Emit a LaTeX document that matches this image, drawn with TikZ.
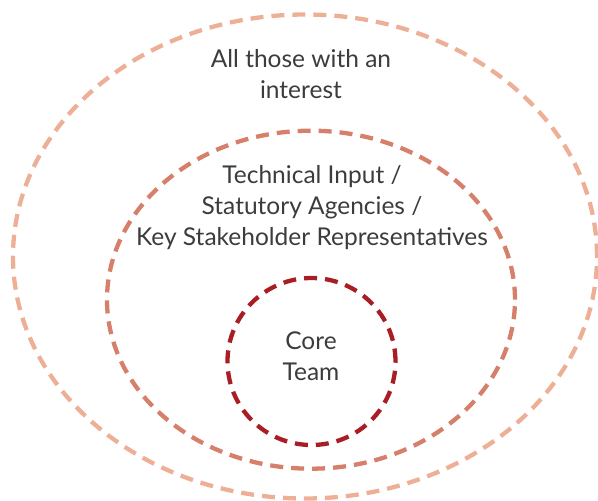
\documentclass[tikz,border=0pt]{standalone}
\usepackage{fontspec}
\setmainfont{Lato}
\usetikzlibrary{shapes.geometric}
\definecolor{ringouter}{HTML}{EDB096}
\definecolor{ringmid}{HTML}{D6806C}
\definecolor{ringcore}{HTML}{A81E24}
\definecolor{labeltext}{HTML}{3C3C3C}
\tikzset{
  ring/.style={ellipse, draw, line width=4.3pt, dash pattern=on 13pt off 8pt, inner sep=0pt},
  label/.style={align=center, text=labeltext, font=\fontsize{24.5}{31}\selectfont, inner sep=0pt}
}
\begin{document}
\begin{tikzpicture}[x=1pt,y=-1pt]
\useasboundingbox (0,0) rectangle (598,501);
\node[ring, draw=ringouter, minimum width=584pt, minimum height=484pt] (outer) at (305,256.5) {};
\node[ring, draw=ringmid, minimum width=408pt, minimum height=338pt] (middle) at (311,299.7) {};
\node[ring, draw=ringcore, minimum width=168pt, minimum height=167pt] (core) at (311.5,361.5) {};
\node[label, anchor=base] (lblouter) at (301,98) {All those with an\\interest};
\node[label, anchor=base] (lblmid) at (312,245) {Technical Input /\\Statutory Agencies /\\Key Stakeholder Representatives};
\node[label, anchor=base] (lblcore) at (311,380.7) {Core\\Team};
\end{tikzpicture}
\end{document}
